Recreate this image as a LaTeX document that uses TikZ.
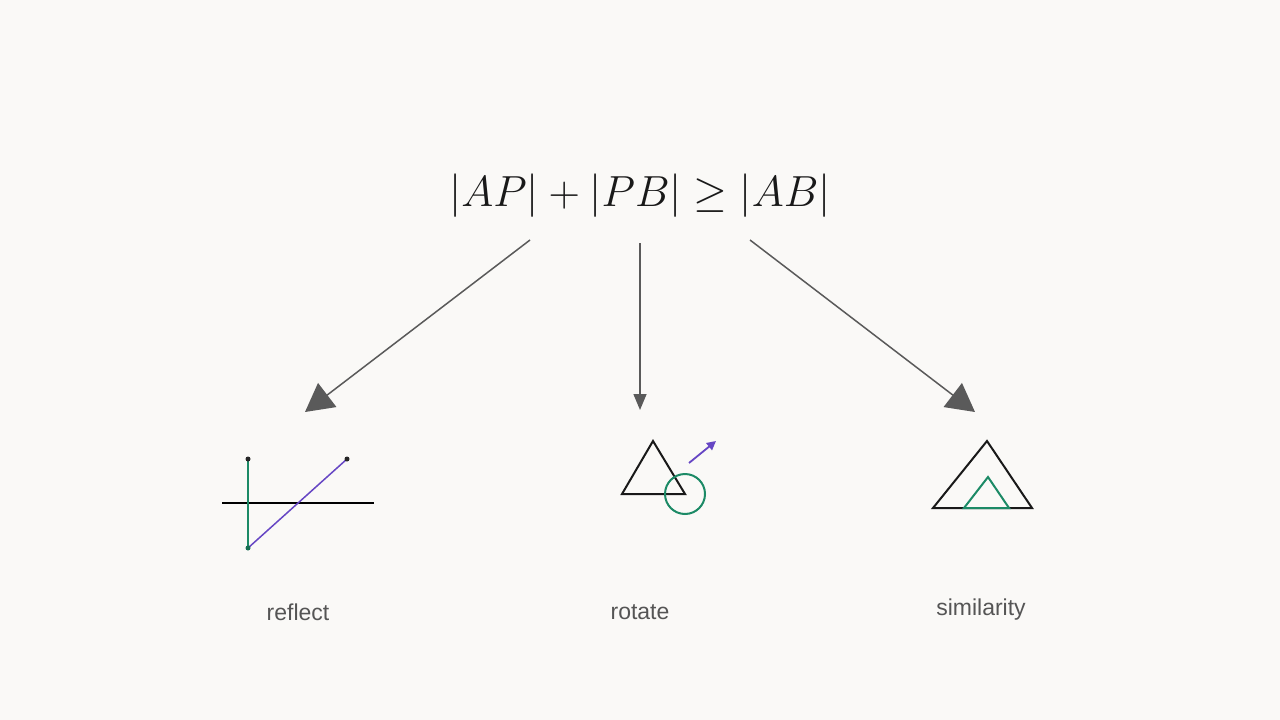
\documentclass[tikz,border=0pt]{standalone}
\usepackage{fontspec}
\setsansfont{Liberation Sans}
\usepackage{amsmath,amssymb}
\usepackage{tikz}
\usetikzlibrary{arrows.meta}
\usetikzlibrary{calc}
\definecolor{bgcol}{HTML}{FAF9F7}
\definecolor{arrowgray}{HTML}{5A5A5A}
\definecolor{labgray}{HTML}{555555}
\definecolor{geogreen}{HTML}{1C8A66}
\definecolor{geopurple}{HTML}{6646C4}
\tikzstyle{bighead}=[>/.tip={Triangle[length=28pt,width=30pt]}]
\tikzstyle{maparrow}=[line width=1.5pt,arrowgray,bighead,->]
\tikzstyle{smallarrow}=[line width=1.5pt,arrowgray,-{Triangle[length=16pt,width=13pt]}]
\tikzstyle{caption}=[font=\sffamily\fontsize{23}{26}\selectfont,text=labgray]
\tikzstyle{geoline}=[line width=2pt,line join=miter]
\begin{document}
\begin{tikzpicture}[x=1pt,y=-1pt]
	\fill[bgcol] (0,0) rectangle (1280,720);
	\useasboundingbox (0,0) rectangle (1280,720);
	\node[scale=1.75,text=black!90] (eq) at (640,196) {\fontsize{25}{30}\selectfont $|AP|+|PB|\geq|AB|$};
	\coordinate (refl-in) at (530,240);
	\coordinate (refl-out) at (305,412);
	\coordinate (rot-in) at (640,243);
	\coordinate (rot-out) at (640,410);
	\coordinate (sim-in) at (750,240);
	\coordinate (sim-out) at (975,412);
	\draw[maparrow] (refl-in) -- (refl-out);
	\draw[smallarrow] (rot-in) -- (rot-out);
	\draw[maparrow] (sim-in) -- (sim-out);
	% reflect
	\coordinate (A) at (248,459);
	\coordinate (B) at (347,459);
	\coordinate (A') at (248,548);
	\draw[geoline,black] (222,503) -- (374,503);
	\draw[geoline,geogreen] (A) -- (A');
	\draw[line width=1.5pt,geopurple] (A') -- (B);
	\fill[black!85] (A) circle (2.5) (B) circle (2.5);
	\fill[geogreen!80!black] (A') circle (2.5);
	% rotate
	\draw[geoline,black!90] (622,494) -- (653,441) -- (685,494) -- cycle;
	\draw[geoline,geogreen] (685,494) circle (20);
	\draw[line width=1.8pt,geopurple,-{Triangle[length=9pt,width=9pt]}] (689,463) -- (716,441);
	% similarity
	\draw[geoline,black!90] (933,508) -- (987,441) -- (1032,508) -- cycle;
	\draw[geoline,geogreen] (964,508) -- (988,477) -- (1009,508) -- cycle;
	\node[caption] (reflect) at (298,612) {reflect};
	\node[caption] (rotate) at (640,612) {rotate};
	\node[caption] (similarity) at (981,610) {similarity};
\end{tikzpicture}
\end{document}
